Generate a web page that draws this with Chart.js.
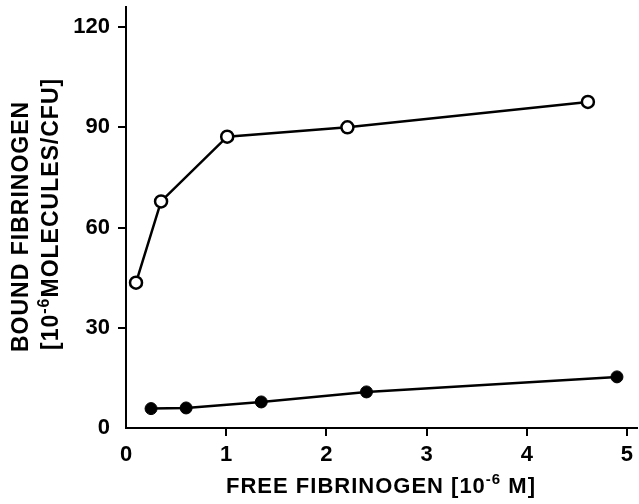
<!DOCTYPE html>
<html>
<head>
<meta charset="utf-8">
<script src="https://cdn.jsdelivr.net/npm/chart.js@4"></script>
<style>
  body { margin: 0; background: #fff; }
  #wrap { width: 639px; height: 504px; position: relative; }
</style>
</head>
<body>
<div id="wrap"><canvas id="myChart"></canvas></div>
<script>
const ctx = document.getElementById('myChart').getContext('2d');

// Free fibrinogen [10^-6 M] and bound fibrinogen values
const openX = [0.10, 0.35, 1.01, 2.21, 4.61];
const openY = [43.5, 67.8, 87.2, 90.0, 97.6];
const filledX = [0.25, 0.60, 1.35, 2.40, 4.90];
const filledY = [5.8, 6.0, 7.8, 10.8, 15.3];

const xTicks = [0, 1, 2, 3, 4, 5];
const yTicks = [0, 30, 60, 90, 120];

const FONT = '"Liberation Sans", Arial, sans-serif';

function toPoints(xs, ys) {
    return xs.map((x, i) => ({ x: x, y: ys[i] }));
}

// Draws a text run where some parts are superscript
function drawRuns(c, runs, x, y) {
    let pos = x;
    runs.forEach(r => {
        c.font = 'bold ' + r.size + 'px ' + FONT;
        c.fillText(r.text, pos, y - (r.rise || 0));
        pos += c.measureText(r.text).width;
    });
    return pos - x;
}

function runsWidth(c, runs) {
    let w = 0;
    runs.forEach(r => {
        c.font = 'bold ' + r.size + 'px ' + FONT;
        w += c.measureText(r.text).width;
    });
    return w;
}

const titlesPlugin = {
    id: 'titles',
    afterDraw(chart) {
        const c = chart.ctx;
        c.save();
        c.fillStyle = '#000';
        c.textBaseline = 'alphabetic';
        c.textAlign = 'left';
        c.letterSpacing = '1px';

        // x-axis title
        const xRuns = [
            { text: 'FREE FIBRINOGEN [10', size: 22 },
            { text: '-6', size: 15, rise: 9 },
            { text: ' M]', size: 22 }
        ];
        drawRuns(c, xRuns, 381 - runsWidth(c, xRuns) / 2, 493);

        // y-axis title, two rotated lines
        c.translate(0, 352);
        c.rotate(-Math.PI / 2);
        drawRuns(c, [{ text: 'BOUND FIBRINOGEN', size: 23 }], 0, 28);
        drawRuns(c, [
            { text: '[10', size: 23 },
            { text: '-6', size: 16, rise: 9 },
            { text: 'MOLECULES/CFU]', size: 23 }
        ], 2, 58);
        c.restore();
    }
};

const tickColor = (c) => (c.tick && c.tick.value === 0) ? 'rgba(0,0,0,0)' : '#000';

const myChart = new Chart(ctx, {
    type: 'scatter',
    data: {
        datasets: [{
            label: 'open',
            data: toPoints(openX, openY),
            showLine: true,
            borderColor: '#000',
            borderWidth: 2.5,
            pointRadius: 6,
            pointBorderWidth: 2.5,
            pointBackgroundColor: '#fff',
            pointBorderColor: '#000'
        }, {
            label: 'filled',
            data: toPoints(filledX, filledY),
            showLine: true,
            borderColor: '#000',
            borderWidth: 2.5,
            pointRadius: 6,
            pointBorderWidth: 1,
            pointBackgroundColor: '#000',
            pointBorderColor: '#000'
        }]
    },
    options: {
        responsive: true,
        maintainAspectRatio: false,
        animation: false,
        layout: { autoPadding: false, padding: { top: 7, right: 2, left: 0, bottom: 0 } },
        plugins: {
            legend: { display: false },
            tooltip: { enabled: false }
        },
        scales: {
            x: {
                type: 'linear',
                min: 0,
                max: 5.1,
                afterFit: (s) => { s.height = 76; s.paddingLeft = 0; s.paddingRight = 0; },
                afterBuildTicks: (s) => { s.ticks = xTicks.map(v => ({ value: v })); },
                border: { display: true, color: '#000', width: 2 },
                grid: { drawOnChartArea: false, drawTicks: true, tickLength: 8, color: tickColor, lineWidth: 2 },
                ticks: { includeBounds: false, color: '#000', padding: 6, font: { family: FONT, size: 22, weight: 'bold' } }
            },
            y: {
                min: 0,
                max: 126,
                afterFit: (s) => { s.width = 126; s.paddingTop = 0; s.paddingBottom = 0; },
                afterBuildTicks: (s) => { s.ticks = yTicks.map(v => ({ value: v })); },
                border: { display: true, color: '#000', width: 2 },
                grid: { drawOnChartArea: false, drawTicks: true, tickLength: 8, color: tickColor, lineWidth: 2 },
                ticks: { includeBounds: false, color: '#000', padding: 8, font: { family: FONT, size: 22, weight: 'bold' } }
            }
        }
    },
    plugins: [titlesPlugin]
});
</script>
</body>
</html>
